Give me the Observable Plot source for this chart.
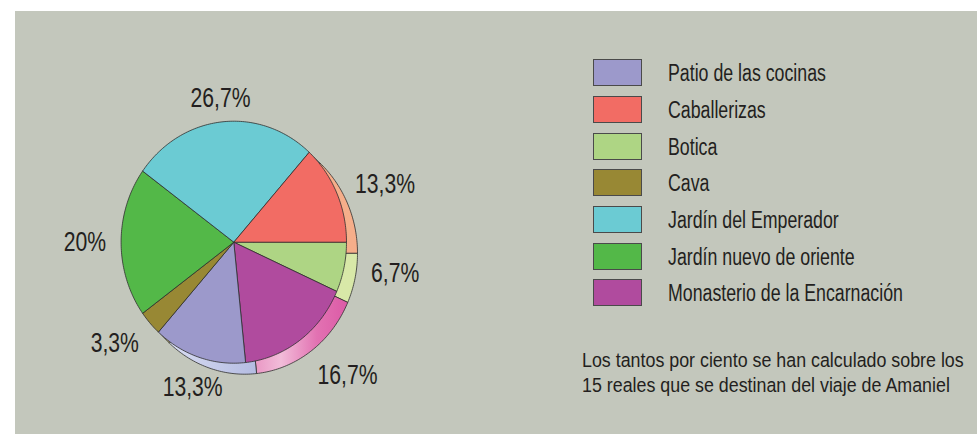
<!DOCTYPE html>
<html>
<head>
<meta charset="utf-8">
<script src="https://cdn.jsdelivr.net/npm/d3@7"></script>
<script src="https://cdn.jsdelivr.net/npm/@observablehq/plot@0.6"></script>
<style>
  html, body { margin: 0; padding: 0; background: #ffffff; width: 977px; height: 434px; overflow: hidden; }
  body { font-family: "Liberation Sans", Arial, sans-serif; color: #231f20; }
  #panel { position: absolute; left: 15px; top: 11px; width: 962px; height: 423px; background: #c3c7bc; }
  #chart { position: absolute; left: 0; top: 0; }
  .row { position: absolute; left: 578px; height: 27px; }
  .sw { position: absolute; left: 0; top: 0; width: 49px; height: 27px; box-sizing: border-box; border: 1.3px solid #4a4a4a; }
  .lt { position: absolute; left: 74.7px; top: 1px; line-height: 27px; font-size: 23px; white-space: nowrap; transform: scaleX(0.772); transform-origin: 0 0; }
  #note { position: absolute; left: 566.7px; top: 336.3px; font-size: 20.5px; line-height: 25px; white-space: nowrap; transform: scaleX(0.87); transform-origin: 0 0; }
</style>
</head>
<body>
<div id="panel">
  <div id="chart"></div>
  <div id="legend"></div>
  <div id="note"></div>
</div>
<script>
// ---- data ----
const categories = ["Patio de las cocinas", "Caballerizas", "Botica", "Cava", "Jardín del Emperador", "Jardín nuevo de oriente", "Monasterio de la Encarnación"];
const reales = [2, 2, 1, 0.5, 4, 3, 2.5];
const percentLabels = ["13,3%", "13,3%", "6,7%", "3,3%", "26,7%", "20%", "16,7%"];
const colors = ["#9c99cb", "#f26c64", "#aed584", "#988834", "#6bcbd3", "#53b848", "#b04b9e"];
const rimColors = ["url(#rimPatio)", "#f6ae8a", "#d8e8a8", "#c9bd7a", "#a8e0e4", "#98d890", "url(#rimMon)"];
// clockwise order of the slices starting at 3 o'clock
const pieOrder = ["Botica", "Monasterio de la Encarnación", "Patio de las cocinas", "Cava", "Jardín nuevo de oriente", "Jardín del Emperador", "Caballerizas"];
const noteLines = ["Los tantos por ciento se han calculado sobre los", "15 reales que se destinan del viaje de Amaniel"];

// ---- geometry (styles) ----
const W = 962, H = 423;
const cx = 218.3, cy = 230.7, rx = 112.7, ry = 121;
const rimPx = 11, gapPx = 15;
const sx = rimPx / rx, sy = rimPx / ry;

const total = d3.sum(reales);
let acc = 0;
const slices = pieOrder.map(name => {
  const i = categories.indexOf(name);
  const a0 = acc / total * 2 * Math.PI;
  acc += reales[i];
  const a1 = acc / total * 2 * Math.PI;
  return {name, i, a0, a1, value: reales[i]};
});

function polygon(s, dx, dy) {
  const n = Math.max(2, Math.ceil((s.a1 - s.a0) / (Math.PI / 180)));
  const pts = [{x: dx, y: dy}];
  for (let k = 0; k <= n; k++) {
    const a = s.a0 + (s.a1 - s.a0) * k / n;
    pts.push({x: dx + Math.cos(a), y: dy + Math.sin(a)});
  }
  pts.push({x: dx, y: dy});
  return pts;
}

const labelData = slices.map(s => {
  const m = (s.a0 + s.a1) / 2;
  const c = Math.cos(m), n = Math.sin(m);
  const us = c * sx + n * sy;
  const t = Math.max(1, us + Math.sqrt(1 - (sx * sx + sy * sy) + us * us));
  return {
    x: (t * rx + gapPx) / rx * c,
    y: (t * ry + gapPx) / ry * n,
    text: percentLabels[s.i],
    ta: c > 0.4 ? "start" : c < -0.4 ? "end" : "middle",
    la: n > 0.5 ? "top" : n < -0.5 ? "bottom" : "middle"
  };
});

const marks = [];
for (const s of slices) {
  marks.push(Plot.line(polygon(s, sx, sy), {x: "x", y: "y", fill: rimColors[s.i], stroke: "#2e2e2e", strokeWidth: 0.8, strokeLinejoin: "round"}));
}
for (const s of slices) {
  marks.push(Plot.line(polygon(s, 0, 0), {x: "x", y: "y", fill: colors[s.i], stroke: "#2e2e2e", strokeWidth: 0.8, strokeLinejoin: "round"}));
}
for (const d of labelData) {
  marks.push(Plot.text([d], {x: "x", y: "y", text: "text", textAnchor: d.ta, lineAnchor: d.la, fontSize: 27, fill: "#231f20", fontFamily: "Liberation Sans, Arial, sans-serif"}));
}

const svg = Plot.plot({
  width: W, height: H, margin: 0,
  style: {background: "transparent", overflow: "visible"},
  x: {domain: [-1, 1], range: [cx - rx, cx + rx], axis: null},
  y: {domain: [-1, 1], range: [cy - ry, cy + ry], axis: null},
  marks
});

const defs = d3.select(svg).insert("defs", ":first-child");
const g1 = defs.append("linearGradient").attr("id", "rimMon").attr("x1", 0).attr("x2", 1).attr("y1", 0).attr("y2", 0);
[[0.05, "#e890c0"], [0.35, "#f2bcd9"], [0.7, "#e272b2"], [1, "#dc5aa6"]].forEach(([o, c]) => g1.append("stop").attr("offset", o).attr("stop-color", c));
const g2 = defs.append("linearGradient").attr("id", "rimPatio").attr("x1", 0).attr("x2", 1).attr("y1", 0).attr("y2", 0);
[[0, "#d8dcf2"], [1, "#b4bce2"]].forEach(([o, c]) => g2.append("stop").attr("offset", o).attr("stop-color", c));

document.getElementById("chart").appendChild(svg);

// condense the percentage labels
svg.querySelectorAll('g[aria-label="text"] text').forEach(t => {
  const L = t.getComputedTextLength();
  t.setAttribute("textLength", (L * 0.784).toFixed(2));
  t.setAttribute("lengthAdjust", "spacingAndGlyphs");
});

// legend
const legend = document.getElementById("legend");
categories.forEach((name, i) => {
  const row = document.createElement("div");
  row.className = "row";
  row.style.top = (48.3 + i * 36.67) + "px";
  const sw = document.createElement("div");
  sw.className = "sw";
  sw.style.background = colors[i];
  const lt = document.createElement("div");
  lt.className = "lt";
  lt.textContent = name;
  row.appendChild(sw); row.appendChild(lt);
  legend.appendChild(row);
});

// note
const note = document.getElementById("note");
noteLines.forEach(l => { const d = document.createElement("div"); d.textContent = l; note.appendChild(d); });
</script>
</body>
</html>
